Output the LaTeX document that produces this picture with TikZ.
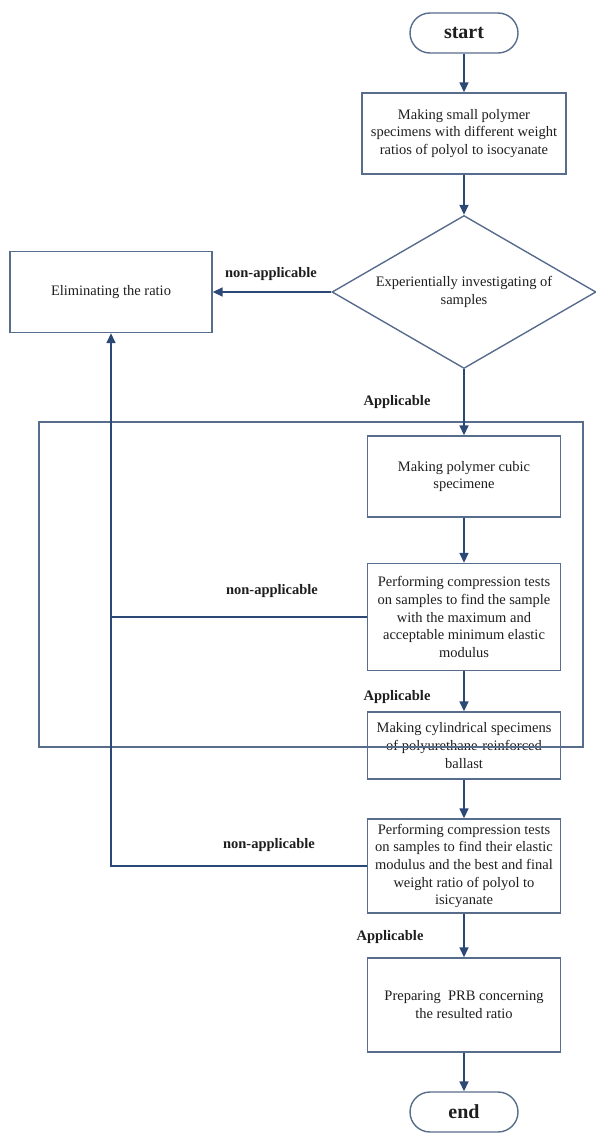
\documentclass[tikz,border=0pt]{standalone}
\usepackage{fontspec}
\setmainfont{Liberation Serif}
\usetikzlibrary{arrows.meta,shapes.geometric}
\definecolor{arrcol}{RGB}{44,72,118}
\definecolor{boxcol}{RGB}{88,108,140}
\definecolor{txtcol}{RGB}{30,30,30}
\begin{document}
\begin{tikzpicture}[x=1pt,y=-1pt,
  every node/.style={text=txtcol},
  body/.style={font=\fontsize{14.5}{17.7}\selectfont, align=center},
  procbox/.style={draw=boxcol, line width=1.4pt, rectangle, body, inner sep=2pt, minimum width=193pt},
  termbox/.style={draw=boxcol, line width=1.4pt, rectangle, rounded corners=20pt, minimum width=108pt, minimum height=40pt, font=\fontsize{20}{24}\selectfont\bfseries},
  decbox/.style={draw=boxcol, line width=1.4pt, diamond, aspect=1.725, body, inner sep=0pt, minimum width=264pt, minimum height=153pt},
  lbl/.style={font=\fontsize{14.5}{17}\selectfont\bfseries},
  ln/.style={draw=arrcol, line width=1.6pt},
  arr/.style={ln, -{Triangle[length=10pt,width=9pt]}},
  frame/.style={draw=boxcol, line width=1.4pt, rectangle}
]
\useasboundingbox (0,0) rectangle (595,1133);

\node[termbox] (start) at (464,33) {start};
\node[procbox, minimum width=204pt, minimum height=81pt] (b1) at (464,133.5)
  {Making small polymer\\specimens with different weight\\ratios of polyol to isocyanate};
\node[decbox] (dia) at (464,292) {Experientially investigating of\\samples};
\node[procbox, minimum width=202pt, minimum height=81pt] (elim) at (111,292) {Eliminating the ratio};
\node[procbox, minimum height=81pt] (b2) at (464,476.5) {Making polymer cubic\\specimene};
\node[procbox, minimum height=107pt] (b3) at (464,617)
  {Performing compression tests\\on samples to find the sample\\with the maximum and\\acceptable minimum elastic\\modulus};
\node[procbox, minimum height=67pt] (b4) at (464,745.5)
  {Making cylindrical specimens\\of polyurethane-reinforced\\ballast};
\node[procbox, minimum height=94pt] (b5) at (464,866)
  {Performing compression tests\\on samples to find their elastic\\modulus and the best and final\\weight ratio of polyol to\\isicyanate};
\node[procbox, minimum height=94pt] (b6) at (464,1005)
  {Preparing\ \ PRB concerning\\the resulted ratio};
\node[termbox] (end) at (464,1112) {end};

\node[frame, minimum width=544pt, minimum height=325pt] (fr) at (311,584.5) {};

\node[lbl] (na1) at (271,274) {non-applicable};
\node[lbl] (ap1) at (397,402) {Applicable};
\node[lbl] (na2) at (272,591) {non-applicable};
\node[lbl] (ap2) at (397,697) {Applicable};
\node[lbl] (na3) at (269,845) {non-applicable};
\node[lbl] (ap3) at (390,937) {Applicable};

\draw[arr] (start) -- (b1);
\draw[arr] (b1) -- (dia);
\draw[arr] (dia.west) -- (elim.east);
\draw[arr] (dia.south) -- (dia.south |- b2.north);
\draw[arr] (b2) -- (b3);
\draw[arr] (b3) -- (b4);
\draw[arr] (b4) -- (b5);
\draw[arr] (b5) -- (b6);
\draw[arr] (b6) -- (end);
\coordinate (j1) at (b3.west -| elim.south);
\draw[ln] (b3.west) -- (j1);
\draw[arr] (b5.west) -| (elim.south);
\end{tikzpicture}
\end{document}
